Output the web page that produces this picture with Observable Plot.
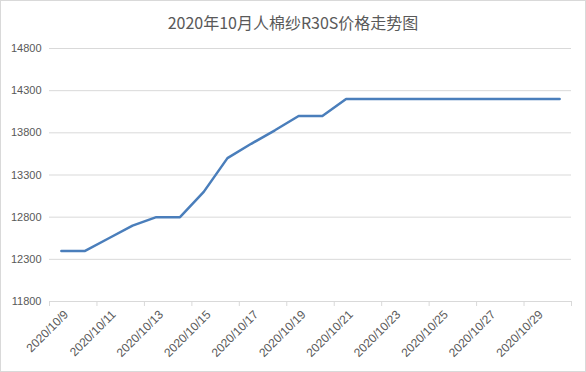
<!DOCTYPE html>
<html>
<head>
<meta charset="utf-8">
<script src="https://cdn.jsdelivr.net/npm/d3@7"></script>
<script src="https://cdn.jsdelivr.net/npm/@observablehq/plot@0.6"></script>
<style>
  html, body { margin: 0; padding: 0; background: #fff; }
  #wrap { position: relative; width: 586px; height: 372px; overflow: hidden; }
  #title { height: 36px; line-height: 16px; padding-top: 14px; box-sizing: border-box; text-align: center;
           font-family: "Noto Sans CJK SC", "Microsoft YaHei", sans-serif; font-size: 16px; color: #595959; }
  #border { position: absolute; left: 0; top: 0; width: 586px; height: 372px; box-sizing: border-box;
            border: 1px solid #d9d9d9; pointer-events: none; }
  svg { display: block; }
</style>
</head>
<body>
<div id="wrap">
  <div id="title">2020年10月人棉纱R30S价格走势图</div>
  <div id="chart"></div>
  <div id="border"></div>
</div>
<script>
const dates = ["2020/10/9","2020/10/10","2020/10/11","2020/10/12","2020/10/13","2020/10/14","2020/10/15",
  "2020/10/16","2020/10/17","2020/10/18","2020/10/19","2020/10/20","2020/10/21","2020/10/22","2020/10/23",
  "2020/10/24","2020/10/25","2020/10/26","2020/10/27","2020/10/28","2020/10/29","2020/10/30"];
const prices = [12400,12400,12550,12700,12800,12800,13100,13500,13670,13830,14000,14000,14200,14200,14200,
  14200,14200,14200,14200,14200,14200,14200];
const yTicks = [11800,12300,12800,13300,13800,14300,14800];
const xLabels = ["2020/10/9","2020/10/11","2020/10/13","2020/10/15","2020/10/17","2020/10/19","2020/10/21",
  "2020/10/23","2020/10/25","2020/10/27","2020/10/29"];

const data = dates.map((d, i) => ({date: d, price: prices[i]}));
const width = 586, marginLeft = 49, marginRight = 15;
const step = (width - marginLeft - marginRight) / dates.length;

const chart = Plot.plot({
  width, height: 336,
  marginLeft, marginRight, marginTop: 12, marginBottom: 71,
  style: {fontFamily: "'Liberation Sans', Arial, sans-serif", fontSize: "11px", color: "#595959", background: "#fff"},
  x: {type: "band", domain: dates, paddingInner: 0, paddingOuter: 0, round: false, label: null},
  y: {domain: [11800, 14800], ticks: yTicks, label: null},
  marks: [
    Plot.gridY(yTicks.slice(1), {stroke: "#d9d9d9", strokeOpacity: 1}),
    Plot.ruleY([11800], {stroke: "#d9d9d9"}),
    Plot.axisY(yTicks, {tickSize: 0, tickPadding: 8, tickFormat: d => String(d), fill: "#595959", fontSize: 11}),
    Plot.axisX(xLabels, {tickSize: 0, tickPadding: 11, dx: 5, tickRotate: -45, fill: "#595959", fontSize: 12}),
    Plot.axisX(xLabels, {tickSize: 5, tickFormat: () => "", dx: -step / 2, stroke: "#d9d9d9"}),
    Plot.axisX([dates[dates.length - 1]], {tickSize: 5, tickFormat: () => "", dx: step / 2, stroke: "#d9d9d9"}),
    Plot.line(data, {x: "date", y: "price", stroke: "#4a7ebb", strokeWidth: 2.5, strokeLinejoin: "round", strokeLinecap: "round"})
  ]
});
document.getElementById("chart").appendChild(chart);
</script>
</body>
</html>
